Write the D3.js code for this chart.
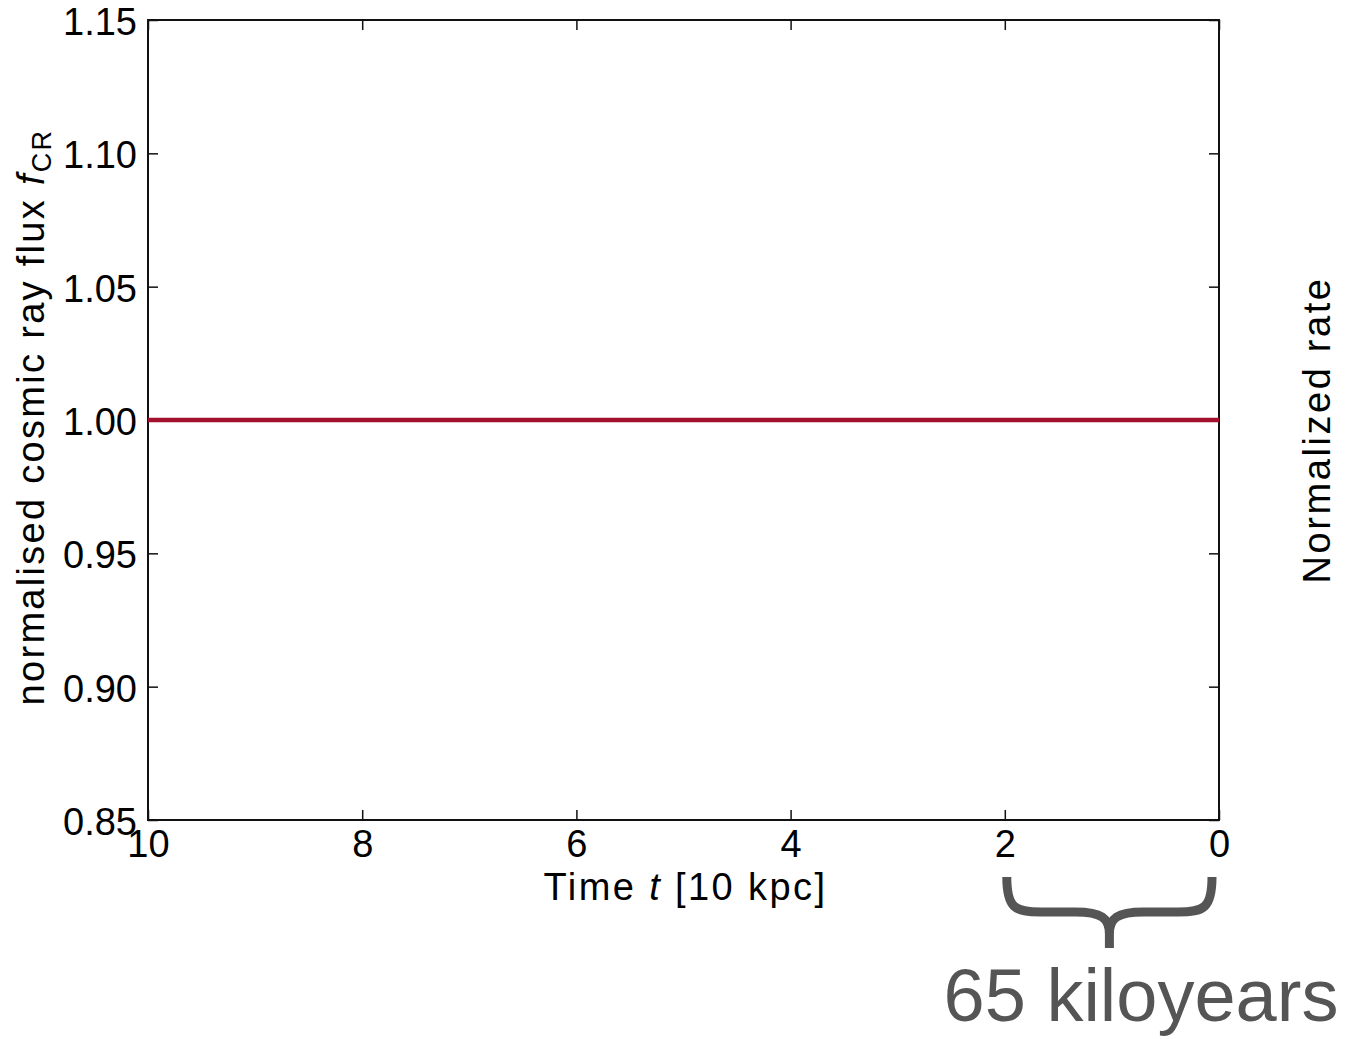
<!DOCTYPE html>
<html>
<head>
<meta charset="utf-8">
<script src="https://cdn.jsdelivr.net/npm/d3@7"></script>
<style>
  html, body { margin: 0; padding: 0; background: #fff; }
  svg { display: block; font-family: "Liberation Sans", Arial, sans-serif; }
</style>
</head>
<body>
<svg id="chart" width="1347" height="1039"></svg>
<script>
// Time axis (units of 10 kpc) and normalised flux along it
const timeValues = [10, 9, 8, 7, 6, 5, 4, 3, 2, 1, 0];
const fluxValues = [1.00, 1.00, 1.00, 1.00, 1.00, 1.00, 1.00, 1.00, 1.00, 1.00, 1.00];

const xTicks = [10, 8, 6, 4, 2, 0];
const yTicks = [0.85, 0.90, 0.95, 1.00, 1.05, 1.10, 1.15];
const xDomain = [10, 0];
const yDomain = [0.85, 1.15];

// span marked with the brace beneath the axis
const braceSpan = [2, 0];
const braceLabel = "65 kiloyears";

const svg = d3.select("#chart");
const plotLeft = 148, plotRight = 1219, plotTop = 20, plotBottom = 820;

const x = d3.scaleLinear().domain(xDomain).range([plotLeft, plotRight]);
const y = d3.scaleLinear().domain(yDomain).range([plotBottom, plotTop]);

const axisColor = "#111";
const tickLen = 10;
const fontSize = 38;

// tick marks, pointing inward on all four sides
const axes = svg.append("g");
axes.append("g").attr("transform", `translate(0,${plotBottom})`)
  .call(d3.axisBottom(x).tickValues(xTicks).tickSizeInner(-tickLen).tickSizeOuter(0)
    .tickPadding(10).tickFormat(d3.format("d")));
axes.append("g").attr("transform", `translate(0,${plotTop})`)
  .call(d3.axisTop(x).tickValues(xTicks).tickSizeInner(-tickLen).tickSizeOuter(0).tickFormat(""));
axes.append("g").attr("transform", `translate(${plotLeft},0)`)
  .call(d3.axisLeft(y).tickValues(yTicks).tickSizeInner(-tickLen).tickSizeOuter(0)
    .tickPadding(11).tickFormat(d3.format(".2f")));
axes.append("g").attr("transform", `translate(${plotRight},0)`)
  .call(d3.axisRight(y).tickValues(yTicks).tickSizeInner(-tickLen).tickSizeOuter(0).tickFormat(""));

axes.selectAll(".domain").remove();
axes.selectAll(".tick line").attr("stroke", axisColor).attr("stroke-width", 1.5);
axes.selectAll(".tick text")
  .attr("fill", "#000")
  .style("font-size", fontSize + "px")
  .style("font-family", "'Liberation Sans', Arial, sans-serif");
axes.selectAll(".tick text").filter(function () { return this.getAttribute("dy") === "0.32em"; })
  .attr("dy", "0.38em");

// frame
svg.append("rect")
  .attr("x", plotLeft).attr("y", plotTop)
  .attr("width", plotRight - plotLeft).attr("height", plotBottom - plotTop)
  .attr("fill", "none").attr("stroke", axisColor).attr("stroke-width", 2);

// flux line
const line = d3.line().x((d, i) => x(timeValues[i])).y(d => y(d));
svg.append("path")
  .datum(fluxValues)
  .attr("d", line)
  .attr("fill", "none")
  .attr("stroke", "#a3102e")
  .attr("stroke-width", 4.5);

// axis titles
svg.append("text")
  .attr("x", (plotLeft + plotRight) / 2 + 2).attr("y", 900)
  .attr("text-anchor", "middle")
  .style("font-size", fontSize + "px").style("letter-spacing", "2.4px")
  .html('Time <tspan font-style="italic">t</tspan> [10 kpc]');

const yl = svg.append("text")
  .attr("transform", `translate(44,${(plotTop + plotBottom) / 2 - 3}) rotate(-90)`)
  .attr("text-anchor", "middle")
  .style("font-size", fontSize + "px").style("letter-spacing", "2.3px");
yl.append("tspan").text("normalised cosmic ray flux ");
yl.append("tspan").attr("font-style", "italic").text("f");
yl.append("tspan").attr("dy", 7).style("font-size", "27px").text("CR");

svg.append("text")
  .attr("transform", `translate(1330,430) rotate(-90)`)
  .attr("text-anchor", "middle")
  .style("font-size", fontSize + "px").style("letter-spacing", "2.6px")
  .text("Normalized rate");

// brace under the last stretch of the time axis
const bx0 = x(braceSpan[0]) + 2, bx1 = x(braceSpan[1]) - 7;
const bm = (bx0 + bx1) / 2;
const bTop = 877, bMid = 912, bTip = 948, r = 34;
const bracePath = d3.path();
bracePath.moveTo(bx0, bTop);
bracePath.bezierCurveTo(bx0, bMid - 4, bx0 + 8, bMid, bx0 + r, bMid);
bracePath.lineTo(bm - r, bMid);
bracePath.bezierCurveTo(bm - 8, bMid, bm, bMid + 6, bm, bMid + 22);
bracePath.lineTo(bm, bTip);
bracePath.moveTo(bm, bMid + 22);
bracePath.bezierCurveTo(bm, bMid + 6, bm + 8, bMid, bm + r, bMid);
bracePath.lineTo(bx1 - r, bMid);
bracePath.bezierCurveTo(bx1 - 8, bMid, bx1, bMid - 4, bx1, bTop);
svg.append("path")
  .attr("d", bracePath.toString())
  .attr("fill", "none")
  .attr("stroke", "#555")
  .attr("stroke-width", 9)
  .attr("stroke-linejoin", "round");

svg.append("text")
  .attr("x", 1141).attr("y", 1021)
  .attr("text-anchor", "middle")
  .attr("fill", "#555")
  .style("font-size", "74px")
  .text(braceLabel);
</script>
</body>
</html>
